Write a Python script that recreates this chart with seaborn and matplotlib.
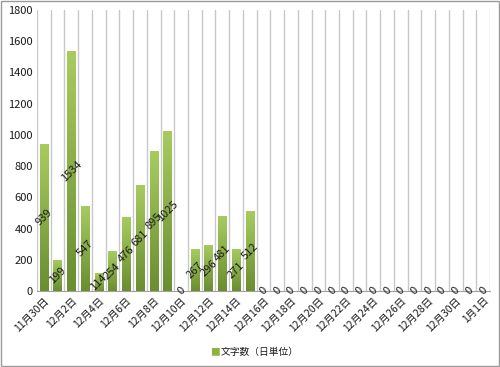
import numpy as np
import pandas as pd
import matplotlib
matplotlib.use("Agg")
import matplotlib.pyplot as plt
import seaborn as sns
from matplotlib.colors import LinearSegmentedColormap

# ----------------------------------------------------
# Data
# ----------------------------------------------------
dates = ["11月30日"] + [f"12月{d}日" for d in range(1, 32)] + ["1月1日"]
counts = [939, 199, 1534, 547, 114, 254, 476, 681, 895, 1025, 0,
          267, 296, 481, 271, 512] + [0] * 17
series_name = "文字数（日単位）"
y_ticks = list(range(0, 1801, 200))

df = pd.DataFrame({"date": dates, "count": counts})

# ----------------------------------------------------
# Plot
# ----------------------------------------------------
sns.set_style("white")
plt.rcParams["font.family"] = ["Noto Sans CJK JP", "DejaVu Sans"]

fig = plt.figure(figsize=(5.0, 3.67), dpi=100)
ax = fig.add_axes([0.074, 0.207, 0.906, 0.766])

sns.barplot(data=df, x="date", y="count", color="#8DB440", width=0.6,
            ax=ax, zorder=3)

# vertical gradient on each bar (light top, darker bottom)
cmap = LinearSegmentedColormap.from_list("g", ["#6A8E30", "#A8CB60"])
grad = np.linspace(0, 1, 64).reshape(-1, 1)
for p in ax.patches:
    h = p.get_height()
    if h <= 0:
        continue
    x0 = p.get_x()
    im = ax.imshow(grad, cmap=cmap, aspect="auto", origin="lower",
                   extent=[x0, x0 + p.get_width(), 0, h], zorder=3)
    im.set_clip_path(p)
    p.set_alpha(0)

# data labels
for i, v in enumerate(counts):
    ax.text(i, v / 2, str(v), rotation=45, ha="center", va="center",
            fontsize=8, color="#1A1A1A", zorder=5)

n = len(dates)
ax.set_xlim(-0.5, n - 0.5)
ax.set_ylim(0, 1800)
ax.set_yticks(y_ticks)
ax.set_yticklabels([str(t) for t in y_ticks], fontsize=8, color="#1A1A1A")

ax.set_xticks(range(0, n, 2))
ax.set_xticklabels(dates[::2], rotation=45, ha="right", rotation_mode="anchor",
                   fontsize=7.5, color="#1A1A1A")
ax.tick_params(axis="both", length=0, pad=3)

# vertical gridlines at category boundaries
for b in np.arange(-0.5, n, 1.0):
    ax.axvline(b, color="#C8C8C8", lw=1.0, zorder=1)

for s in ["top", "right", "left"]:
    ax.spines[s].set_visible(False)
ax.spines["bottom"].set_color("#A0A0A0")
ax.set_xlabel("")
ax.set_ylabel("")

# legend
fig.text(0.44, 0.041, "■", color="#8DB440", fontsize=7, ha="right", va="center")
fig.text(0.442, 0.041, series_name, fontsize=7, ha="left", va="center",
         color="#1A1A1A")

# outer border
fig.patches.append(plt.Rectangle((0.002, 0.003), 0.996, 0.994,
                                 transform=fig.transFigure, fill=False,
                                 edgecolor="#9A9A9A", lw=1.0))

fig.savefig("out.png", dpi=100)
plt.close(fig)
